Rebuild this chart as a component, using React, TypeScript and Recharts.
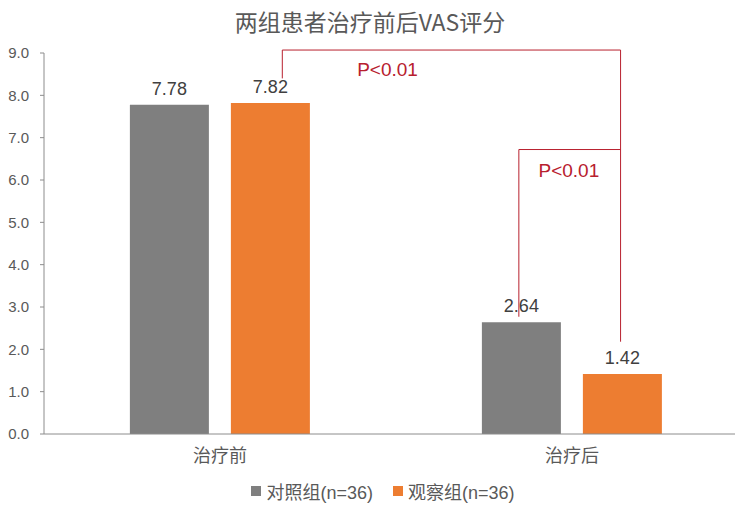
import { Bar, BarChart, LabelList, Legend, ReferenceDot, ReferenceLine, XAxis, YAxis } from 'recharts'

const TITLE = '两组患者治疗前后VAS评分'
const CATEGORIES = ['治疗前', '治疗后']
const CONTROL = [7.78, 2.64]
const OBSERVE = [7.82, 1.42]
const SERIES_NAMES = ['对照组(n=36)', '观察组(n=36)']
const Y_TICKS = [0, 1, 2, 3, 4, 5, 6, 7, 8, 9]

// significance brackets, x as a fraction of the plot width, y in score units
const BRACKETS = [
  [
    { x: 0.3385, y: 8.4 },
    { x: 0.3385, y: 9.07 },
    { x: 0.819, y: 9.07 },
    { x: 0.819, y: 2.18 },
  ],
  [
    { x: 0.6745, y: 2.77 },
    { x: 0.6745, y: 6.72 },
    { x: 0.819, y: 6.72 },
  ],
]
const P_LABELS = [
  { x: 0.488, y: 8.61, text: 'P<0.01' },
  { x: 0.7455, y: 6.23, text: 'P<0.01' },
]

const GRAY = '#7f7f7f'
const ORANGE = '#ed7d31'
const TEXT = '#595959'
const RED = '#b8202e'
const FONT = '"Liberation Sans", "Noto Sans CJK SC", sans-serif'

const data = CATEGORIES.map((name, i) => ({ name, control: CONTROL[i], observe: OBSERVE[i] }))

function ChartLegend() {
  return (
    <div
      style={{
        height: 50,
        paddingTop: 10,
        boxSizing: 'border-box',
        display: 'flex',
        justifyContent: 'center',
        gap: 20,
        fontFamily: FONT,
        fontSize: 18,
        color: TEXT,
        paddingLeft: 18,
      }}
    >
      {SERIES_NAMES.map((name, i) => (
        <div key={name} style={{ display: 'flex', alignItems: 'center', gap: 5, height: 22 }}>
          <span style={{ width: 10, height: 10, background: i === 0 ? GRAY : ORANGE }} />
          <span>{name}</span>
        </div>
      ))}
    </div>
  )
}

export default function App() {
  return (
    <div
      style={{
        position: 'absolute',
        left: 0,
        top: 0,
        width: 735,
        height: 520,
        overflow: 'hidden',
        background: '#fff',
        fontFamily: FONT,
      }}
    >
      <div
        style={{
          position: 'absolute',
          top: 4,
          left: 0,
          width: 740,
          textAlign: 'center',
          fontSize: 23,
          color: TEXT,
          fontFamily: '"Noto Sans CJK SC", sans-serif',
        }}
      >
        {TITLE}
      </div>
      <BarChart
        width={748}
        height={520}
        data={data}
        margin={{ top: 53, right: 0, bottom: 0, left: 0 }}
        barCategoryGap="24.4%"
        barGap={22}
      >
        <XAxis
          dataKey="name"
          height={36}
          tickLine={false}
          axisLine={{ stroke: '#8c8c8c' }}
          tick={{ fill: TEXT, fontSize: 18, fontFamily: FONT }}
          tickMargin={9}
        />
        <XAxis xAxisId="n" type="number" domain={[0, 1]} allowDataOverflow hide />
        <YAxis
          width={44}
          domain={[0, 9]}
          ticks={Y_TICKS}
          interval={0}
          tickFormatter={(v) => v.toFixed(1)}
          tickSize={4}
          tickMargin={11}
          axisLine={{ stroke: '#8c8c8c' }}
          tickLine={{ stroke: '#8c8c8c' }}
          tick={{ fill: TEXT, fontSize: 15, fontFamily: FONT }}
        />
        <Bar dataKey="control" name={SERIES_NAMES[0]} fill={GRAY} isAnimationActive={false}>
          <LabelList dataKey="control" position="top" offset={10} fill="#404040" fontSize={18} formatter={(v) => Number(v).toFixed(2)} />
        </Bar>
        <Bar dataKey="observe" name={SERIES_NAMES[1]} fill={ORANGE} isAnimationActive={false}>
          <LabelList dataKey="observe" position="top" offset={10} fill="#404040" fontSize={18} formatter={(v) => Number(v).toFixed(2)} />
        </Bar>
        {BRACKETS.flatMap((points, b) =>
          points.slice(1).map((p, i) => (
            <ReferenceLine
              key={`${b}-${i}`}
              xAxisId="n"
              segment={[points[i], p]}
              stroke={RED}
              strokeWidth={1}
              ifOverflow="visible"
            />
          )),
        )}
        {P_LABELS.map((p, i) => (
          <ReferenceDot
            key={i}
            xAxisId="n"
            x={p.x}
            y={p.y}
            r={0}
            fill="none"
            stroke="none"
            ifOverflow="visible"
            label={{ value: p.text, position: 'center', fill: RED, fontSize: 19, fontFamily: FONT }}
          />
        ))}
        <Legend verticalAlign="bottom" content={() => <ChartLegend />} />
      </BarChart>
    </div>
  )
}
